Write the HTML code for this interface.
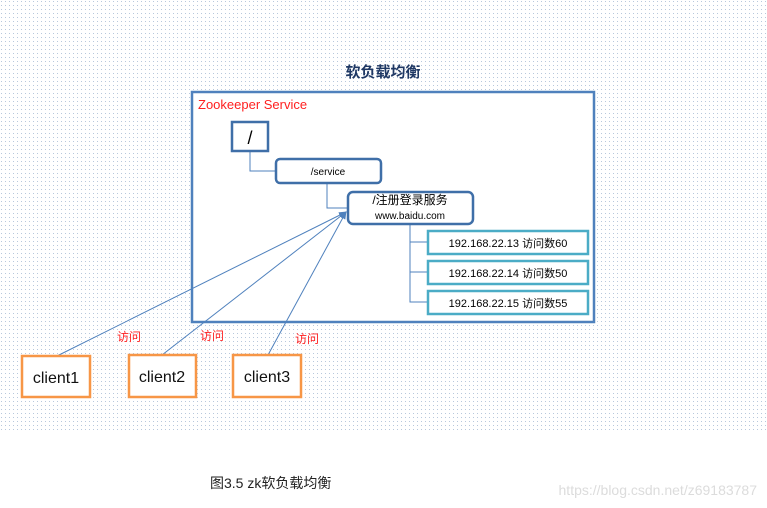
<!DOCTYPE html>
<html><head><meta charset="utf-8"><style>
body{margin:0;background:#fff;}
svg{display:block;font-family:"Liberation Sans","Noto Sans CJK SC",sans-serif;}
</style></head><body>
<svg width="767" height="508" viewBox="0 0 767 508">
<defs>
<pattern id="d" width="4" height="4" patternUnits="userSpaceOnUse"><rect x="1" y="1" width="1" height="1" fill="#b8c8dc"/></pattern>
<marker id="a" markerWidth="8" markerHeight="8" refX="7" refY="4" orient="auto" markerUnits="userSpaceOnUse"><path d="M0,1 L8,4 L0,7z" fill="#4f81bd"/></marker>
</defs>
<rect x="0" y="0" width="767" height="430" fill="url(#d)"/>
<text x="383" y="77" text-anchor="middle" font-size="15" font-weight="bold" fill="#1f3864">软负载均衡</text>
<rect x="192" y="92" width="402" height="230" fill="#fff" stroke="#4f81bd" stroke-width="2.5"/>
<text x="198" y="109" font-size="13" fill="#ff2020">Zookeeper Service</text>
<g fill="none" stroke="#4f81bd" stroke-width="1">
<path d="M250 151V171H275"/><path d="M327 183V208H347"/><path d="M410 224V302H427M410 242H427M410 272H427"/>
</g>
<rect x="232" y="122" width="36" height="29" fill="#fff" stroke="#3f6fa8" stroke-width="2.5"/>
<text x="250" y="144" text-anchor="middle" font-size="18">/</text>
<rect x="276" y="159" width="105" height="24" rx="4" fill="#fff" stroke="#3f6fa8" stroke-width="2.5"/>
<text x="328" y="175" text-anchor="middle" font-size="10">/service</text>
<rect x="348" y="192" width="125" height="32" rx="5" fill="#fff" stroke="#3f6fa8" stroke-width="2.5"/>
<text x="410" y="204" text-anchor="middle" font-size="12">/注册登录服务</text>
<text x="410" y="219" text-anchor="middle" font-size="10">www.baidu.com</text>
<g fill="#fff" stroke="#4bacc6" stroke-width="2.5">
<rect x="428" y="231" width="160" height="23"/><rect x="428" y="261" width="160" height="23"/><rect x="428" y="291" width="160" height="23"/>
</g>
<g font-size="11" text-anchor="middle">
<text x="508" y="247">192.168.22.13  访问数60</text>
<text x="508" y="277">192.168.22.14 访问数50</text>
<text x="508" y="307">192.168.22.15 访问数55</text>
</g>
<g stroke="#4f81bd" stroke-width="1" marker-end="url(#a)">
<line x1="57" y1="356" x2="346" y2="212"/><line x1="162" y1="355" x2="346" y2="212"/><line x1="268" y1="355" x2="346" y2="212"/>
</g>
<g font-size="12" fill="#ff2020">
<text x="117" y="341">访问</text><text x="200" y="340">访问</text><text x="295" y="343">访问</text>
</g>
<g fill="#fff" stroke="#f79646" stroke-width="2.5">
<rect x="22" y="356" width="68" height="41"/><rect x="129" y="355" width="67" height="42"/><rect x="233" y="355" width="68" height="42"/>
</g>
<g font-size="16" text-anchor="middle" fill="#111">
<text x="56" y="383">client1</text><text x="162" y="382">client2</text><text x="267" y="382">client3</text>
</g>
<text x="210" y="488" font-size="14" fill="#222">图3.5 zk软负载均衡</text>
<text x="757" y="495" text-anchor="end" font-size="14" fill="#dcdcdc">https://blog.csdn.net/z69183787</text>
</svg>
</body></html>
